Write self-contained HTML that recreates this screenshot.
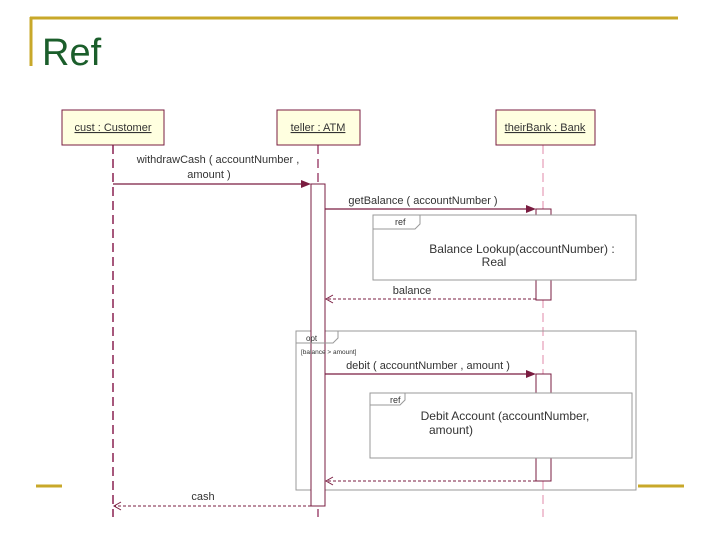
<!DOCTYPE html>
<html><head><meta charset="utf-8"><style>
html,body{margin:0;padding:0;background:#fff;width:720px;height:540px;overflow:hidden}
svg{display:block}
text{font-family:"Liberation Sans",sans-serif}
</style></head><body>
<svg width="720" height="540" viewBox="0 0 720 540">
<rect width="720" height="540" fill="#fff"/>
<line x1="30" y1="18" x2="678" y2="18" stroke="#c8a82a" stroke-width="3"/>
<line x1="31" y1="17" x2="31" y2="66" stroke="#c8a82a" stroke-width="3"/>
<line x1="36" y1="486" x2="62" y2="486" stroke="#c8a82a" stroke-width="3"/>
<line x1="638" y1="486" x2="684" y2="486" stroke="#c8a82a" stroke-width="3"/>
<text x="42" y="65" font-size="38" fill="#1b5e2b">Ref</text>

<line x1="113" y1="145" x2="113" y2="517" stroke="#8a2050" stroke-width="1.5" stroke-dasharray="9,5"/>
<line x1="318" y1="145" x2="318" y2="517" stroke="#8a2050" stroke-width="1.2" stroke-dasharray="9,5"/>
<line x1="543" y1="145" x2="543" y2="517" stroke="#e08aa8" stroke-width="1" stroke-dasharray="9,5"/>

<g font-size="11" fill="#333" text-decoration="underline">
<rect x="62" y="110" width="102" height="35" fill="#ffffe0" stroke="#7a1c40"/>
<text x="113" y="131" text-anchor="middle">cust : Customer</text>
<rect x="277" y="110" width="83" height="35" fill="#ffffe0" stroke="#7a1c40"/>
<text x="318" y="131" text-anchor="middle">teller : ATM</text>
<rect x="496" y="110" width="99" height="35" fill="#ffffe0" stroke="#7a1c40"/>
<text x="545" y="131" text-anchor="middle">theirBank : Bank</text>
</g>

<rect x="296" y="331" width="340" height="159" fill="none" stroke="#999"/>

<rect x="311" y="184" width="14" height="322" fill="#fff" stroke="#7a1c40"/>
<rect x="536" y="209" width="15" height="91" fill="#fff" stroke="#7a1c40"/>
<rect x="536" y="374" width="15" height="107" fill="#fff" stroke="#7a1c40"/>

<path d="M296 343 H333 L338 338 V331" fill="none" stroke="#999"/>
<text x="306" y="341" font-size="8" fill="#333">opt</text>
<text x="301" y="354" font-size="6.5" fill="#333">[balance &gt; amount]</text>

<g font-size="11" fill="#333">
<line x1="113" y1="184" x2="305" y2="184" stroke="#7a1c40" stroke-width="1.2"/>
<polygon points="311,184 301,180 301,188" fill="#7a1c40"/>
<text x="218" y="163" text-anchor="middle">withdrawCash ( accountNumber ,</text>
<text x="209" y="178" text-anchor="middle">amount )</text>

<line x1="325" y1="209" x2="530" y2="209" stroke="#7a1c40" stroke-width="1.2"/>
<polygon points="536,209 526,205 526,213" fill="#7a1c40"/>
<text x="423" y="204" text-anchor="middle">getBalance ( accountNumber )</text>

<rect x="373" y="215" width="263" height="65" fill="#fff" stroke="#999"/>
<path d="M373 229 H415 L420 224 V215" fill="none" stroke="#999"/>
<text x="395" y="225" font-size="9">ref</text>
<text x="522" y="253" text-anchor="middle" font-size="12">Balance Lookup(accountNumber) :</text>
<text x="494" y="266" text-anchor="middle" font-size="12">Real</text>

<line x1="536" y1="299" x2="326" y2="299" stroke="#7a1c40" stroke-dasharray="3,2"/>
<path d="M333 295 L326 299 L333 303" fill="none" stroke="#7a1c40"/>
<text x="412" y="294" text-anchor="middle">balance</text>

<line x1="325" y1="374" x2="530" y2="374" stroke="#7a1c40" stroke-width="1.2"/>
<polygon points="536,374 526,370 526,378" fill="#7a1c40"/>
<text x="428" y="369" text-anchor="middle">debit ( accountNumber , amount )</text>

<rect x="370" y="393" width="262" height="65" fill="#fff" stroke="#999"/>
<path d="M370 405 H400 L405 400 V393" fill="none" stroke="#999"/>
<text x="390" y="403" font-size="9">ref</text>
<text x="505" y="420" text-anchor="middle" font-size="12">Debit Account (accountNumber,</text>
<text x="451" y="434" text-anchor="middle" font-size="12">amount)</text>

<line x1="536" y1="481" x2="326" y2="481" stroke="#7a1c40" stroke-dasharray="3,2"/>
<path d="M333 477 L326 481 L333 485" fill="none" stroke="#7a1c40"/>

<line x1="311" y1="506" x2="114" y2="506" stroke="#7a1c40" stroke-dasharray="3,2"/>
<path d="M121 502 L114 506 L121 510" fill="none" stroke="#7a1c40"/>
<text x="203" y="500" text-anchor="middle">cash</text>
</g>
</svg>
</body></html>
